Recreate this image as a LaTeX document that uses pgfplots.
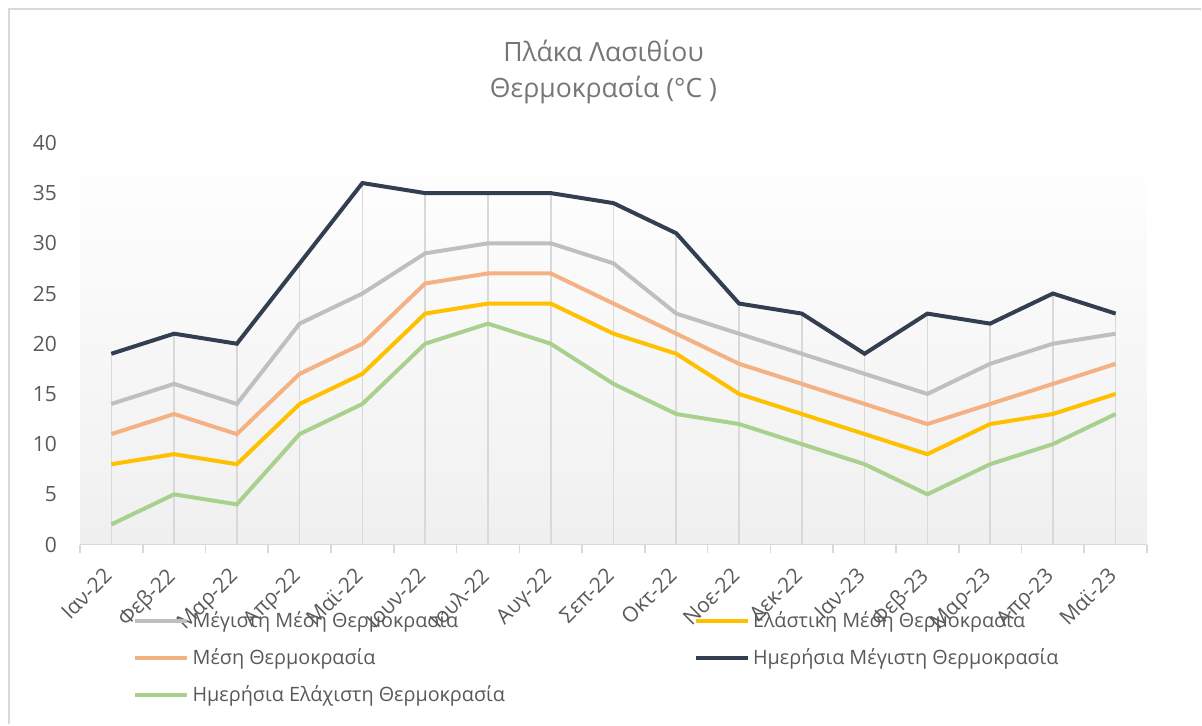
\documentclass[border=0pt]{standalone}
\usepackage{fontspec}
\setmainfont{Open Sans}
\usepackage{pgfplots}
\pgfplotsset{compat=1.18}

\definecolor{cNavy}{HTML}{333F50}
\definecolor{cGray}{HTML}{BFBFBF}
\definecolor{cOrange}{HTML}{F4B183}
\definecolor{cYellow}{HTML}{FFC000}
\definecolor{cGreen}{HTML}{A9D18E}
\definecolor{cText}{HTML}{595959}
\definecolor{cTitle}{HTML}{767676}
\definecolor{cAxis}{HTML}{D9D9D9}

% months: 0 = Ιαν-22 ... 16 = Μαϊ-23
\pgfplotstableread{
x  maxavg  minavg  mean  dmax  dmin
0  14      8       11    19    2
1  16      9       13    21    5
2  14      8       11    20    4
3  22      14      17    28    11
4  25      17      20    36    14
5  29      23      26    35    20
6  30      24      27    35    22
7  30      24      27    35    20
8  28      21      24    34    16
9  23      19      21    31    13
10 21      15      18    24    12
11 19      13      16    23    10
12 17      11      14    19    8
13 15      9       12    23    5
14 18      12      14    22    8
15 20      13      16    25    10
16 21      15      18    23    13
}\temps

\begin{document}
\begin{tikzpicture}
\path (0,0) rectangle (601pt,-362.5pt);
\draw[cAxis, line width=1pt] (4.5pt,-362.5pt) -- (4.5pt,-4.5pt) -- (601pt,-4.5pt);

\begin{axis}[
    at={(40pt,-272.5pt)}, anchor=south west,
    scale only axis,
    width=534pt, height=201pt,
    xmin=-0.5, xmax=16.5,
    ymin=0, ymax=40,
    ytick={0,5,...,40},
    xtick={0,...,16},
    xticklabels={Ιαν-22,Φεβ-22,Μαρ-22,Απρ-22,Μαϊ-22,Ιουν-22,Ιουλ-22,Αυγ-22,Σεπ-22,Οκτ-22,Νοε-22,Δεκ-22,Ιαν-23,Φεβ-23,Μαρ-23,Απρ-23,Μαϊ-23},
    minor xtick={-0.5,0.5,...,16.5},
    major tick length=0pt,
    minor tick length=4pt,
    tick align=outside,
    x tick style={draw=cAxis, line width=0.8pt},
    y tick style={draw=none},
    axis x line*=bottom,
    axis y line*=left,
    x axis line style={draw=cAxis, line width=0.8pt, -},
    y axis line style={draw=none},
    axis background/.style={top color=white, bottom color=black!6},
    tick label style={text=cText, font=\fontsize{10.5}{12.5}\selectfont},
    xticklabel style={xshift=-4.5pt, yshift=-6pt, rotate=45, anchor=north east},
    yticklabel style={anchor=east, xshift=-8pt},
    /pgf/number format/assume math mode=true,
    legend columns=2,
    legend style={at={(0.044,-0.146)}, anchor=north west, draw=none, fill=none,
        font=\fontsize{9.9}{11.9}\selectfont, text=cText,
        row sep=5pt, nodes={inner xsep=1.5pt},
        /tikz/every even column/.append style={column sep=93pt}},
    legend cell align=left,
    legend image code/.code={\draw[#1, line width=2.2pt] (0pt,0pt) -- (26pt,0pt);},
]
\addplot[ycomb, cAxis, line width=0.8pt, forget plot] table[x=x, y=dmax] {\temps};

\addplot[cGray, line width=2pt] table[x=x, y=maxavg] {\temps};
\addlegendentry{Μέγιστη Μέση Θερμοκρασία}
\addplot[cYellow, line width=2pt] table[x=x, y=minavg] {\temps};
\addlegendentry{Ελάστικη Μέση Θερμοκρασία}
\addplot[cOrange, line width=2pt] table[x=x, y=mean] {\temps};
\addlegendentry{Μέση Θερμοκρασία}
\addplot[cNavy, line width=2pt] table[x=x, y=dmax] {\temps};
\addlegendentry{Ημερήσια Μέγιστη Θερμοκρασία}
\addplot[cGreen, line width=2pt] table[x=x, y=dmin] {\temps};
\addlegendentry{Ημερήσια Ελάχιστη Θερμοκρασία}
\end{axis}

\node[text=cTitle, align=center, font=\fontsize{13.3}{18}\selectfont] at (302pt,-36pt) {Πλάκα Λασιθίου\\Θερμοκρασία (°C )};
\end{tikzpicture}
\end{document}
